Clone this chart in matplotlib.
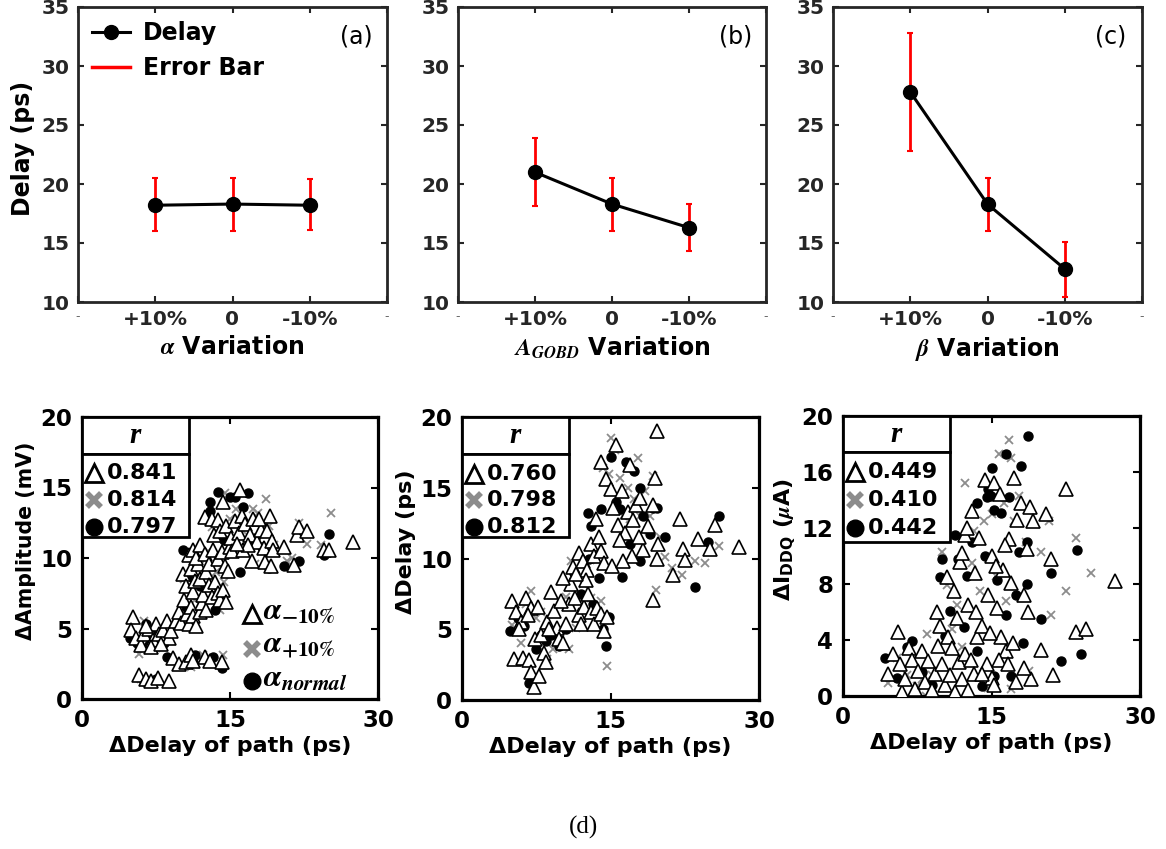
import matplotlib
matplotlib.use('Agg')
import matplotlib.pyplot as plt
from matplotlib.patches import Rectangle
from matplotlib.lines import Line2D

plt.rcParams['font.family'] = ['DejaVu Sans']
plt.rcParams['font.weight'] = 'bold'
plt.rcParams['axes.labelweight'] = 'bold'
plt.rcParams['mathtext.fontset'] = 'stix'

# ---------------- top row data ----------------
categories = ['+10%', '0', '-10%']
delay_a = [18.2, 18.3, 18.2]
low_a = [16.0, 16.0, 16.1]
high_a = [20.5, 20.5, 20.4]
delay_b = [21.0, 18.3, 16.3]
low_b = [18.1, 16.0, 14.3]
high_b = [23.9, 20.5, 18.3]
delay_c = [27.8, 18.3, 12.8]
low_c = [22.8, 16.0, 10.4]
high_c = [32.8, 20.5, 15.1]
top_xlabels = [r'$\mathbfit{\alpha}$ Variation', r'$\mathbfit{A_{GOBD}}$ Variation', r'$\mathbfit{\beta}$ Variation']
top_tags = ['(a)', '(b)', '(c)']

# ---------------- bottom row data ----------------
amp_tri = [(5.2,5.8),(5.0,4.9),(5.5,4.3),(6.0,3.8),(6.3,4.6),(6.8,5.0),(7.2,4.2),(7.5,5.3),(7.8,4.6),(8.2,4.9),
           (8.6,5.5),(8.8,4.3),(7.0,3.7),(6.5,5.2),(8.0,3.9),(9.0,4.8),
           (5.8,1.7),(6.5,1.4),(7.0,1.3),(7.7,1.5),(8.8,1.3),(9.2,2.9),(9.8,2.5),(10.5,2.6),(11.0,3.1),(11.2,2.7),
           (12.5,3.0),(13.0,2.7),(14.2,2.6),
           (9.5,5.5),(9.8,6.2),(10.0,5.4),(10.3,7.0),(10.6,6.0),(10.8,5.3),(11.0,6.5),(11.3,5.9),(11.6,5.2),(12.0,6.2),
           (12.2,6.8),(12.6,6.3),(10.2,8.9),(10.5,8.0),(11.0,9.2),(11.3,7.6),(11.5,8.4),(11.8,9.6),(12.0,8.5),(12.3,7.4),
           (12.6,9.0),(12.9,8.1),(13.2,7.2),(13.5,8.3),(13.8,7.5),(14.0,7.0),(14.3,7.7),(14.6,6.9),(10.8,10.2),(11.2,10.6),
           (11.6,10.0),(12.0,10.9),(12.5,10.3),(12.9,9.6),(13.3,10.6),(13.8,9.9),(14.2,10.4),(14.5,9.4),(14.8,9.1),(15.0,10.8),
           (12.5,12.9),(13.2,12.8),(13.8,12.7),(14.3,14.0),(13.4,11.6),(14.0,11.9),(14.6,12.3),(15.1,11.4),(15.5,12.6),
           (15.9,11.8),(16.2,13.0),(16.5,12.4),(17.0,11.6),(17.3,12.8),(17.7,11.1),(18.1,12.0),(18.4,10.7),(18.8,11.9),
           (19.1,13.0),(19.3,11.2),(16.0,14.8),(15.2,10.5),(16.3,10.6),(16.8,10.9),(17.2,9.8),(18.5,9.7),(19.2,9.4),
           (19.4,10.6),(15.7,11.0),(17.9,12.8),
           (20.5,10.8),(21.5,9.5),(21.8,11.6),(22.0,12.2),(22.8,11.9),(24.5,10.6),(25.0,10.6),(27.5,11.1)]
amp_cross = [(5.8,3.2),(6.3,5.5),(6.8,4.5),(7.5,3.6),(8.2,4.5),(6.0,1.4),(7.3,1.3),(9.0,3.0),(10.0,2.5),(11.0,2.3),
             (12.3,3.1),(14.3,3.1),(10.3,8.5),(11.0,8.0),(11.5,7.0),(12.0,9.5),(12.8,10.5),(13.2,12.2),(13.6,9.0),
             (14.0,6.3),(14.4,8.3),(14.5,14.6),(15.0,12.8),(15.6,13.5),(16.2,12.0),(16.7,11.2),(17.3,13.5),(17.8,13.2),
             (18.3,12.3),(18.6,14.2),(19.0,12.3),(19.5,10.9),(17.5,9.6),(20.8,9.8),(21.3,10.0),(22.0,12.5),(22.8,11.0),
             (24.2,10.9),(25.2,13.2)]
amp_dot = [(4.9,4.3),(5.6,4.0),(6.5,5.3),(7.2,4.7),(7.8,4.4),(6.8,3.8),(8.3,4.0),(6.3,1.3),(7.5,1.4),(8.6,3.0),
           (11.5,3.1),(14.2,2.2),(13.3,3.0),(10.2,10.6),(10.5,6.5),(11.2,8.6),(12.0,8.0),(13.5,6.3),(13.0,14.0),
           (13.0,13.3),(13.8,14.7),(14.4,11.3),(15.0,14.3),(15.5,14.3),(16.3,13.6),(16.8,14.6),(16.0,9.0),(17.0,11.0),
           (17.5,11.4),(18.2,10.8),(19.0,9.3),(20.5,9.4),(22.0,9.8),(24.5,10.2),(25.0,11.7)]

dly_tri = [(5.0,7.0),(5.5,6.2),(6.0,5.5),(6.5,7.2),(7.0,6.5),(5.3,2.9),(6.2,3.0),(6.8,2.8),(7.0,2.0),(7.3,0.9),
           (7.8,1.7),(8.3,3.3),(8.5,2.7),(7.4,4.3),(8.0,4.6),(8.6,5.5),(9.0,7.6),(9.3,6.3),(9.6,5.1),(9.8,4.3),
           (10.2,4.0),(10.5,5.4),(10.8,6.8),(11.0,8.2),(11.4,7.2),(11.8,6.0),(12.0,5.4),(12.3,6.6),(12.7,7.5),(13.0,6.2),
           (13.3,5.4),(13.6,6.5),(14.0,6.1),(14.3,4.9),(14.6,5.9),(11.2,9.4),(11.8,10.4),(12.2,9.8),(12.6,9.2),(13.0,11.0),
           (13.3,10.2),(13.5,12.8),(13.8,11.5),(14.0,10.5),(14.3,9.7),(12.5,8.5),(11.5,8.9),(10.2,8.6),(10.0,7.0),(8.8,5.0),
           (6.7,6.0),(7.7,6.6),(5.8,5.0),
           (14.0,16.8),(14.5,15.6),(15.0,14.9),(15.3,13.6),(15.6,18.0),(15.8,12.4),(16.2,14.8),(16.5,11.8),(16.8,13.3),
           (17.0,16.6),(17.3,12.7),(17.6,13.8),(18.0,14.3),(18.3,10.6),(18.8,12.3),(19.3,13.8),(19.5,15.7),(19.7,10.0),
           (19.3,7.1),(19.8,11.0),(19.7,19.0),(17.2,10.2),(16.0,11.3),(15.2,9.5),(17.9,11.5),(16.3,9.8),
           (21.3,8.8),(22.0,12.8),(22.3,10.7),(22.5,9.9),(23.8,11.4),(25.0,10.7),(25.6,12.4),(28.0,10.8)]
dly_cross = [(5.0,5.3),(6.0,4.0),(6.5,6.8),(7.0,7.7),(7.5,5.8),(8.0,6.2),(8.3,4.3),(8.6,2.9),(9.2,3.6),(10.0,3.8),
             (10.8,3.6),(10.5,7.3),(11.0,9.8),(11.5,5.1),(12.2,8.2),(13.0,7.2),(13.6,9.9),(14.0,7.0),(14.6,2.4),
             (14.2,16.4),(14.8,16.0),(15.0,18.5),(15.5,17.7),(16.0,15.7),(16.3,13.0),(16.8,15.0),(17.0,12.8),(17.4,14.2),
             (17.8,17.1),(18.0,13.0),(18.5,14.8),(18.8,12.0),(19.0,13.0),(19.3,15.8),(19.6,7.8),(20.0,11.5),(20.5,10.1),
             (21.2,9.3),(22.2,8.8),(23.5,9.8),(24.5,9.7),(26.0,10.9)]
dly_dot = [(4.8,4.9),(5.7,5.8),(6.3,5.2),(6.8,1.2),(7.5,3.6),(8.0,4.6),(8.5,4.2),(9.0,4.6),(9.8,3.8),(10.5,5.0),
           (11.3,9.0),(12.0,7.5),(12.8,10.0),(13.2,6.8),(13.8,8.6),(14.2,5.0),(14.8,5.9),(14.5,3.8),(12.7,13.2),
           (13.0,12.3),(14.0,13.5),(15.0,17.2),(15.6,14.0),(16.0,13.5),(16.6,16.8),(17.4,16.2),(18.0,15.0),(18.3,13.0),
           (18.0,9.8),(19.3,13.6),(19.7,13.6),(19.0,11.7),(20.5,11.5),(23.5,8.0),(24.8,11.2),(26.0,13.0),(17.0,11.0),
           (16.2,8.7)]

iddq_tri = [(4.5,1.6),(5.0,3.0),(5.6,4.6),(5.8,2.3),(6.0,0.3),(6.3,1.2),(6.7,3.4),(7.0,2.6),(7.3,0.5),(7.6,1.8),
            (8.0,3.2),(8.3,1.0),(8.6,2.5),(9.0,0.4),(9.3,1.6),(9.6,3.6),(9.8,5.0),(10.0,2.3),(10.3,0.8),(10.6,4.2),
            (10.8,1.5),(11.0,3.4),(11.3,0.3),(11.5,5.6),(11.7,2.4),(12.0,1.2),(12.3,3.0),(12.6,0.4),(12.9,2.6),(13.2,1.6),
            (13.5,4.2),(11.2,7.5),(11.8,9.6),(12.3,11.5),(12.6,6.5),(13.0,13.2),(13.3,8.8),(13.7,11.3),(14.0,5.0),
            (14.3,15.4),(14.6,7.2),(15.0,10.0),(15.3,15.2),(15.6,6.3),(15.9,14.4),(16.2,9.0),(16.5,3.2),(16.8,11.2),
            (17.0,8.1),(17.3,15.6),(17.6,12.6),(18.0,13.8),(18.3,7.2),(18.6,10.5),(18.9,13.5),(19.2,12.5),(18.7,6.0),
            (17.2,3.8),(16.0,4.2),(14.5,2.3),(15.0,1.3),(15.8,2.6),(16.7,2.3),(17.5,1.0),(14.0,1.6),(15.3,0.8),(19.0,1.2),
            (18.3,2.0),(10.5,8.5),(9.5,6.0),(12.0,10.2),(14.8,4.5),(13.4,6.0),(16.4,10.8),(15.5,9.3),(12.5,12.0),
            (20.5,13.0),(21.0,9.8),(21.2,1.5),(20.0,3.3),(22.5,14.8),(23.5,4.6),(24.5,4.8),(27.5,8.2)]
iddq_cross = [(4.5,0.9),(5.5,2.7),(6.5,1.5),(7.5,0.7),(8.0,1.2),(8.4,0.0),(9.0,1.5),(8.5,4.4),(10.0,10.3),(10.5,7.9),
              (11.0,4.8),(11.5,6.5),(12.0,3.5),(12.3,15.2),(13.0,9.5),(13.2,11.8),(13.8,7.5),(14.2,12.5),(14.6,0.6),
              (15.0,13.0),(15.5,8.6),(15.8,17.3),(16.3,13.8),(16.5,6.8),(16.8,18.3),(17.0,17.0),(17.3,12.5),(17.8,14.3),
              (18.0,10.3),(18.5,11.0),(18.8,1.8),(17.0,0.5),(20.0,10.3),(20.8,12.5),(21.0,5.8),(22.5,7.5),(23.5,11.3),
              (25.0,8.8)]
iddq_dot = [(4.2,2.7),(5.5,1.3),(6.5,3.5),(7.0,3.9),(8.0,1.7),(9.0,0.8),(9.8,8.5),(10.0,9.8),(10.3,4.3),(10.8,6.1),
            (11.3,11.5),(11.6,9.8),(12.2,4.9),(12.5,8.6),(13.0,11.0),(13.5,3.2),(14.0,0.7),(14.3,10.0),(14.6,14.8),
            (14.9,14.3),(15.0,16.3),(15.3,13.3),(15.6,8.3),(15.3,1.4),(16.0,13.1),(16.5,17.3),(16.8,14.2),(17.0,1.4),
            (16.5,5.8),(17.5,7.2),(18.0,16.4),(18.2,3.8),(18.6,11.0),(18.7,18.6),(18.6,8.0),(17.8,10.3),(20.0,5.5),
            (21.0,8.8),(22.0,2.5),(24.0,3.0),(23.6,10.4),(13.5,13.8),(14.5,14.2)]

r_amp = ['0.841', '0.814', '0.797']
r_dly = ['0.760', '0.798', '0.812']
r_iddq = ['0.449', '0.410', '0.442']
bottom_ylabels = ['ΔAmplitude (mV)', 'ΔDelay (ps)', r'ΔI$_{\mathregular{DDQ}}$ ($\mathbfit{\mu}$A)']
bottom_ylabel_sizes = [14.8, 16, 16]
bottom_xlabel = 'ΔDelay of path (ps)'
legend_labels = [r'$\mathbfit{\alpha}_{\mathbf{-10\%}}$', r'$\mathbfit{\alpha}_{\mathbf{+10\%}}$',
                 r'$\mathbfit{\alpha_{normal}}$']

W, H = 1166, 849
fig = plt.figure(figsize=(W / 100, H / 100), dpi=100)


def px_axes(l, t, r, b):
    return fig.add_axes([l / W, 1 - b / H, (r - l) / W, (b - t) / H])


dark = '#262626'
top_boxes = [(78, 7, 387, 302), (458, 7, 766, 302), (833, 7, 1142, 302)]
top_data = [(delay_a, low_a, high_a), (delay_b, low_b, high_b), (delay_c, low_c, high_c)]
xpos = [1, 2, 3]
for i, (box, (d, lo, hi)) in enumerate(zip(top_boxes, top_data)):
    ax = px_axes(*box)
    yerr = [[v - l for v, l in zip(d, lo)], [h - v for v, h in zip(d, hi)]]
    ax.errorbar(xpos, d, yerr=yerr, fmt='none', ecolor='red', elinewidth=2,
                capsize=2.5, capthick=1.5, zorder=2)
    ax.plot(xpos, d, '-o', color='black', lw=2.2, ms=10, zorder=3)
    ax.set_xlim(0, 4)
    ax.set_ylim(10, 35)
    ax.set_xticks([0, 1, 2, 3, 4])
    ax.set_xticklabels(['-'] + categories + ['-'])
    ax.set_yticks([10, 15, 20, 25, 30, 35])
    ax.tick_params(axis='both', direction='in', length=4, width=1.5, colors=dark,
                   top=True, right=True, labelsize=14.5, pad=6)
    for k, lab in enumerate(ax.get_xticklabels()):
        if k in (0, 4):
            lab.set_fontsize(9)
            lab.set_fontweight('normal')
            lab.set_color('#666666')
    for s in ax.spines.values():
        s.set_linewidth(2)
        s.set_color(dark)
    ax.set_xlabel(top_xlabels[i], fontsize=17, labelpad=4)
    ax.text(0.9, 0.9, top_tags[i], transform=ax.transAxes, fontsize=17,
            fontweight='normal', ha='center', va='center')
    if i == 0:
        ax.set_ylabel('Delay (ps)', fontsize=17, labelpad=5)
        ax.yaxis.label.set_y(0.52)
        h1 = Line2D([], [], color='black', lw=2.2, marker='o', ms=10)
        h2 = Line2D([], [], color='red', lw=2.5)
        ax.legend([h1, h2], ['Delay', 'Error Bar'], loc='upper left', frameon=False,
                  fontsize=17, handlelength=1.6, handletextpad=0.55, labelspacing=0.45,
                  borderaxespad=0.3, borderpad=0.3)

bottom_boxes = [(82, 417, 378, 699), (462, 417, 759, 700), (843, 416, 1140, 696)]
bottom_sets = [(amp_tri, amp_cross, amp_dot, r_amp), (dly_tri, dly_cross, dly_dot, r_dly),
               (iddq_tri, iddq_cross, iddq_dot, r_iddq)]
gray = '#8c8c8c'
for i, (box, (tri, crs, dot, rv)) in enumerate(zip(bottom_boxes, bottom_sets)):
    ax = px_axes(*box)
    ax.plot([p[0] for p in crs], [p[1] for p in crs], linestyle='none', marker='x',
            ms=5.5, mew=1.3, color=gray, zorder=2)
    ax.plot([p[0] for p in dot], [p[1] for p in dot], linestyle='none', marker='o',
            ms=6.5, color='black', zorder=3)
    ax.plot([p[0] for p in tri], [p[1] for p in tri], linestyle='none', marker='^',
            ms=9.5, mew=1.2, mfc='white', mec='black', zorder=4)
    ax.set_xlim(0, 30)
    ax.set_ylim(0, 20)
    ax.set_xticks([0, 15, 30])
    if i == 2:
        ax.set_yticks([0, 4, 8, 12, 16, 20])
    else:
        ax.set_yticks([0, 5, 10, 15, 20])
    ax.tick_params(axis='both', direction='in', length=5, width=1.5, colors='black',
                   top=True, right=True, labelsize=16.5, pad=7)
    for s in ax.spines.values():
        s.set_linewidth(2.3)
        s.set_color('black')
    ax.set_xlabel(bottom_xlabel, fontsize=16, labelpad=3)
    ax.set_ylabel(bottom_ylabels[i], fontsize=bottom_ylabel_sizes[i], labelpad=3)
    ax.yaxis.label.set_y(0.56)

    # r table
    tw = 10.8
    hb = 17.4
    bb = 11.5 if i < 2 else 11.0
    ax.add_patch(Rectangle((0, hb), tw, 20 - hb, facecolor='white', edgecolor='black',
                           lw=2, zorder=10, clip_on=False))
    ax.add_patch(Rectangle((0, bb), tw, hb - bb, facecolor='white', edgecolor='black',
                           lw=2, zorder=10, clip_on=False))
    ax.text(tw / 2, (20 + hb) / 2, 'r', fontsize=21, family='Liberation Serif',
            style='italic', fontweight='bold', ha='center', va='center', zorder=11)
    rows_y = [16.0, 14.1, 12.2] if i < 2 else [16.0, 14.0, 12.0]
    ax.plot([1.2], [rows_y[0]], marker='^', ms=12.5, mew=2, mfc='white', mec='black',
            zorder=11, clip_on=False)
    ax.plot([1.2], [rows_y[1]], marker='x', ms=10, mew=4, color=gray, zorder=11)
    ax.plot([1.2], [rows_y[2]], marker='o', ms=12, color='black', zorder=11)
    for y, t in zip(rows_y, rv):
        ax.text(2.5, y, t, fontsize=16, fontweight='bold', ha='left', va='center',
                zorder=11)

    if i == 0:
        leg_y = [6.05, 3.56, 1.28]
        ax.plot([17.2], [leg_y[0]], marker='^', ms=12.5, mew=2, mfc='white', mec='black', zorder=11)
        ax.plot([17.2], [leg_y[1]], marker='x', ms=10, mew=4, color=gray, zorder=11)
        ax.plot([17.2], [leg_y[2]], marker='o', ms=12, color='black', zorder=11)
        for y, t in zip(leg_y, legend_labels):
            ax.text(18.3, y + 0.2, t, fontsize=22, ha='left', va='center', zorder=11)

fig.text(583 / W, 1 - 827 / H, '(d)', family='Liberation Serif', fontweight='normal',
         fontsize=18, ha='center', va='center')

fig.savefig('out.png', dpi=100)
